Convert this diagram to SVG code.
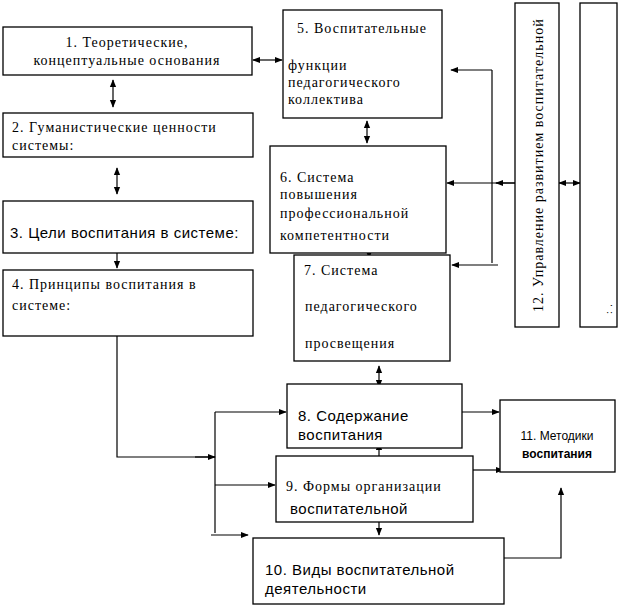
<svg xmlns="http://www.w3.org/2000/svg" width="621" height="607" viewBox="0 0 621 607">
<style>
rect{fill:#fff;stroke:#000;stroke-width:1.3}
.s{font-family:"Liberation Serif",serif;font-size:14px;letter-spacing:1px}
.a{font-family:"Liberation Sans",sans-serif;font-size:15px;letter-spacing:0.5px}
line,polyline{stroke:#000;stroke-width:1.2;fill:none}
.c line,.c polyline{marker-end:url(#ar)}
.d line{marker-start:url(#ar);marker-end:url(#ar)}
</style>
<defs><marker id="ar" viewBox="0 0 10 10" refX="9" refY="5" markerWidth="8" markerHeight="8" markerUnits="userSpaceOnUse" orient="auto-start-reverse"><path d="M0,1 L10,5 L0,9z"/></marker></defs>
<rect fill="#fff" style="stroke:none" width="621" height="607"/>
<g id="connectors">
<g class="d">
<line x1="253" y1="60" x2="282" y2="60"/>
<line x1="113" y1="80" x2="113" y2="107"/>
<line x1="117" y1="168" x2="117" y2="194"/>
<line x1="117" y1="244" x2="117" y2="268"/>
<line x1="367" y1="121" x2="367" y2="143"/>
<line x1="369" y1="244" x2="369" y2="258"/>
<line x1="379" y1="366" x2="379" y2="387"/>
<line x1="379" y1="443" x2="379" y2="464"/>
<line x1="379" y1="515" x2="379" y2="535"/>
<line x1="559" y1="183" x2="580" y2="183"/>
</g>
<polyline points="117,315 117,457 215,457"/>
<line x1="215" y1="412" x2="215" y2="533"/>
<g class="c">
<line x1="195" y1="457" x2="215" y2="457"/>
<line x1="215" y1="412" x2="286" y2="412"/>
<line x1="215" y1="485" x2="275" y2="485"/>
<line x1="211" y1="535" x2="248" y2="535"/>
<line x1="462" y1="412" x2="499" y2="412"/>
<line x1="473" y1="470" x2="503" y2="470"/>
<polyline points="504,558 561,558 561,488"/>
<line x1="515" y1="183" x2="447" y2="183"/>
<line x1="492" y1="70" x2="451" y2="70"/>
<line x1="498" y1="265" x2="452" y2="265"/>
<line x1="515" y1="183" x2="496" y2="183"/>
</g>
<line x1="492" y1="70" x2="492" y2="263"/>
</g>
<g id="n1"><rect x="3" y="27" width="249" height="48"/><text class="s" text-anchor="middle" x="127" y="47">1. Теоретические,</text><text class="s" text-anchor="middle" x="127" y="65">концептуальные основания</text></g>
<g id="n2"><rect x="3" y="113" width="250" height="44"/><text class="s" x="12" y="132">2. Гуманистические ценности</text><text class="s" x="12" y="150">системы:</text></g>
<g id="n3"><rect x="3" y="201" width="250" height="52"/><text class="a" x="10" y="238">3. Цели воспитания в системе:</text></g>
<g id="n4"><rect x="3" y="270" width="250" height="66"/><text class="s" x="12" y="289">4. Принципы воспитания в</text><text class="s" x="12" y="310">системе:</text></g>
<g id="n5"><rect x="283" y="10" width="159" height="108"/><text class="s" x="297" y="33">5. Воспитательные</text><text class="s" x="288" y="70">функции</text><text class="s" x="288" y="87">педагогического</text><text class="s" x="288" y="104">коллектива</text></g>
<g id="n6"><rect x="270" y="146" width="176" height="107"/><text class="s" x="280" y="182">6. Система</text><text class="s" x="280" y="199">повышения</text><text class="s" x="280" y="218">профессиональной</text><text class="s" x="280" y="240">компетентности</text></g>
<g id="n7"><rect x="294" y="255" width="156" height="106"/><text class="s" x="304" y="275">7. Система</text><text class="s" x="305" y="311">педагогического</text><text class="s" x="305" y="348">просвещения</text></g>
<g id="n8"><rect x="287" y="384" width="175" height="64"/><text class="a" x="298" y="421">8. Содержание</text><text class="a" x="298" y="440">воспитания</text></g>
<g id="n9"><rect x="276" y="456" width="197" height="66"/><text class="s" x="286" y="491">9. Формы организации</text><text class="a" x="290" y="514">воспитательной</text></g>
<g id="n10"><rect x="253" y="538" width="251" height="66"/><text class="a" x="265" y="575">10. Виды воспитательной</text><text class="a" x="265" y="594">деятельности</text></g>
<g id="n11"><rect x="500" y="400" width="115" height="72"/><text text-anchor="middle" x="557" y="440" style="font-family:'Liberation Sans',sans-serif;font-size:12px">11. Методики</text><text text-anchor="middle" x="557" y="458" style="font-family:'Liberation Sans',sans-serif;font-size:12px;font-weight:bold">воспитания</text></g>
<g id="n12"><rect x="515" y="3" width="44" height="324"/><text class="s" transform="translate(543,312) rotate(-90)">12. Управление развитием воспитательной</text></g>
<g id="n13"><rect x="580" y="3" width="37" height="324"/><text class="s" transform="translate(612,314) rotate(-90)" style="font-size:10px">: .</text></g>
</svg>
